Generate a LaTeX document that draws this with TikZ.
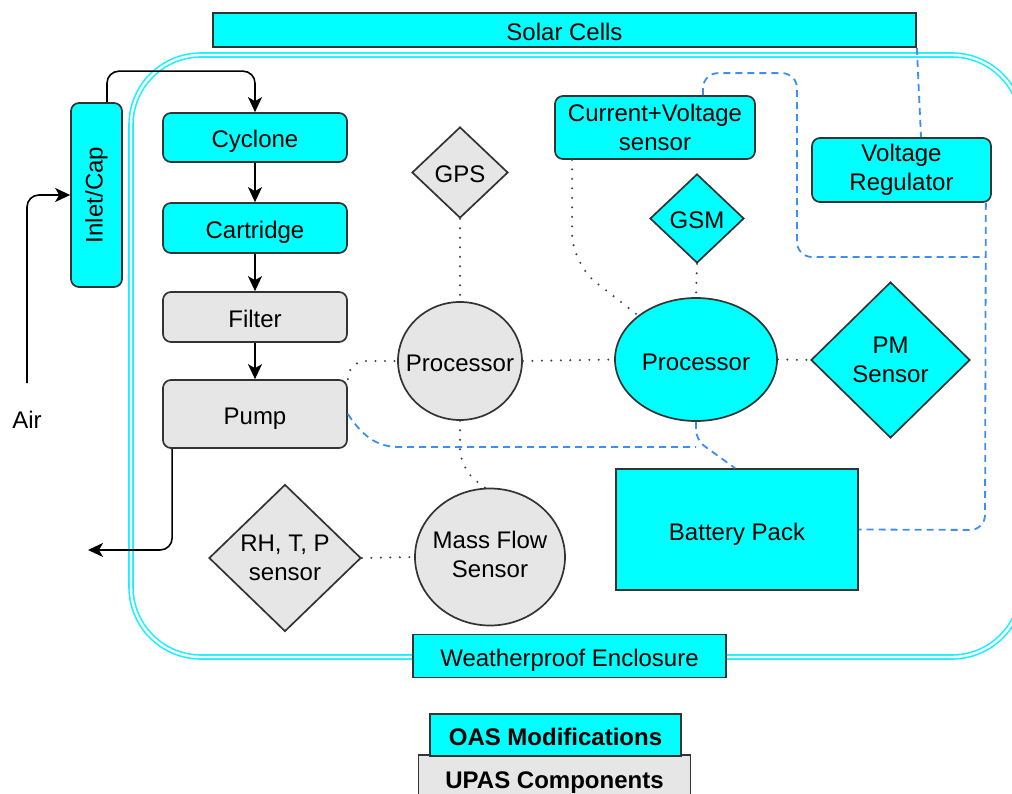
\documentclass[tikz,border=0pt]{standalone}
\usepackage{fontspec}
\setmainfont{Liberation Sans}
\usetikzlibrary{shapes.geometric,arrows.meta}
\definecolor{cy}{HTML}{00FFFF}
\definecolor{gr}{HTML}{E6E6E6}
\definecolor{bd}{HTML}{333333}
\definecolor{bl}{HTML}{3D8EF0}
\definecolor{encl}{HTML}{1AF0FF}
\definecolor{dotc}{HTML}{444444}
\begin{document}
\begin{tikzpicture}[x=1pt,y=-1pt,
  font=\fontsize{24}{29}\selectfont,
  base/.style={draw=bd, line width=1.7pt, inner sep=0pt, align=center, text=black},
  one/.style={text height=21pt, text depth=0pt},
  cbox/.style={base, fill=cy, rounded corners=8pt},
  gbox/.style={base, fill=gr, rounded corners=8pt},
  sbox/.style={base, fill=cy},
  cdia/.style={base, fill=cy, diamond, aspect=1},
  gdia/.style={base, fill=gr, diamond, aspect=1},
  cell/.style={base, fill=cy, ellipse},
  gell/.style={base, fill=gr, ellipse},
  arr/.style={draw=black, line width=1.6pt, -{Stealth[length=15pt,width=14pt,inset=4pt]}, rounded corners=12pt},
  dotline/.style={draw=dotc, line width=2.3pt, line cap=round, dash pattern=on 0pt off 9.5pt},
  bdash/.style={draw=bl, line width=1.8pt, dash pattern=on 7pt off 5pt},
]
\useasboundingbox (0,0) rectangle (1012,794);
\clip (0,0) rectangle (1012,794);

% enclosure
\draw[draw=encl, line width=1.6pt, double=white, double distance=2.4pt, rounded corners=70pt] (131,55) rectangle (1022,657);

% nodes
\node[sbox, one, minimum width=703pt, minimum height=34pt] (solar) at (564.5,30) {Solar Cells};
\node[cbox, minimum width=51pt, minimum height=184pt] (inlet) at (96.5,195) {\rotatebox{90}{Inlet/Cap}};
\node[cbox, one, minimum width=184pt, minimum height=49pt] (cyc) at (255,137.5) {Cyclone};
\node[cbox, one, minimum width=184pt, minimum height=50pt] (cart) at (255,228) {Cartridge};
\node[gbox, one, minimum width=184pt, minimum height=50pt] (filt) at (255,317) {Filter};
\node[gbox, one, minimum width=184pt, minimum height=68pt] (pump) at (255,414) {Pump};
\node[gdia, one, minimum width=96pt, minimum height=91pt] (gps) at (460,172.5) {GPS};
\node[gell, one, minimum width=124pt, minimum height=118pt] (p1) at (460,361) {\makebox[0pt]{Processor}};
\node[cbox, minimum width=200pt, minimum height=63pt] (cv) at (655,127.5) {Current+Voltage\\sensor};
\node[cdia, one, minimum width=94pt, minimum height=89pt] (gsm) at (697,218.5) {GSM};
\node[cbox, minimum width=179pt, minimum height=64pt] (vreg) at (901.5,170) {Voltage\\Regulator};
\node[cell, one, minimum width=162pt, minimum height=123pt] (p2) at (696,359.5) {\makebox[0pt]{Processor}};
\node[cdia, minimum width=159pt, minimum height=156pt] (pm) at (890.5,360) {PM\\Sensor};
\node[sbox, one, minimum width=242pt, minimum height=121pt] (bat) at (737,529.5) {Battery Pack};
\node[gdia, minimum width=152pt, minimum height=147pt] (rh) at (285,558) {RH, T, P\\sensor};
\node[gell, minimum width=150pt, minimum height=137pt] (mfs) at (490,557) {\makebox[0pt]{\raisebox{-4pt}{\begin{tabular}{@{}c@{}}Mass Flow\\Sensor\end{tabular}}}};
\node[sbox, one, minimum width=313pt, minimum height=43pt] (wpe) at (569.5,656) {Weatherproof Enclosure};
\node[base, one, fill=gr, minimum width=272pt, minimum height=46pt, font=\fontsize{24}{29}\selectfont\bfseries] (upas) at (554.5,778) {UPAS Components};
\node[sbox, one, minimum width=251pt, minimum height=42pt, font=\fontsize{24}{29}\selectfont\bfseries] (oas) at (555.5,735) {OAS Modifications};
\node[inner sep=0pt] (air) at (27,420) {Air};

\coordinate (airtop) at (27,383);
\coordinate (outtip) at (88,550);
\coordinate (j1) at (985,257);
\coordinate (j2) at (696,447);

% air flow arrows
\draw[arr] (airtop) |- (inlet.west);
\draw[arr] ([xshift=10.5pt]inlet.north) -- ++(0,-31) -| (cyc.north);
\draw[arr] (cyc) -- (cart);
\draw[arr] (cart) -- (filt);
\draw[arr] (filt) -- (pump);
\draw[arr] ([xshift=10pt]pump.south west) |- (outtip);

% dotted data links
\draw[dotline] (gps.south) -- (p1.north);
\draw[dotline, rounded corners=18pt] (pump.north east) |- (p1.west);
\draw[dotline] (p1.east) -- (p2.west);
\draw[dotline, rounded corners=20pt] (p1.south) -- ++(0,48) -- ([xshift=-5pt]mfs.north);
\draw[dotline] (rh.east) -- (mfs.west);
\draw[dotline] (p2.east) -- (pm.west);
\draw[dotline] (gsm.south) -- (p2.north);
\draw[dotline, rounded corners=30pt] ([xshift=18pt]cv.south west) -- ++(0,104) -- (p2.north west);

% dashed power links
\draw[bdash, rounded corners=15pt] ([xshift=48pt]cv.north) -- ++(0,-22) -| (797,257) -- (j1);
\draw[bdash, rounded corners=15pt] ([xshift=-6pt]vreg.south east) -- (985,530) -- (bat.east);
\draw[bdash] (solar.south east) -- ([xshift=19.5pt]vreg.north);
\draw[bdash] (pump.east) .. controls (365,440) and (380,447) .. (400,447) -- (j2);
\draw[bdash, rounded corners=10pt] (p2.south) -- (696,440) -- ([xshift=-2pt]bat.north);
\end{tikzpicture}
\end{document}
